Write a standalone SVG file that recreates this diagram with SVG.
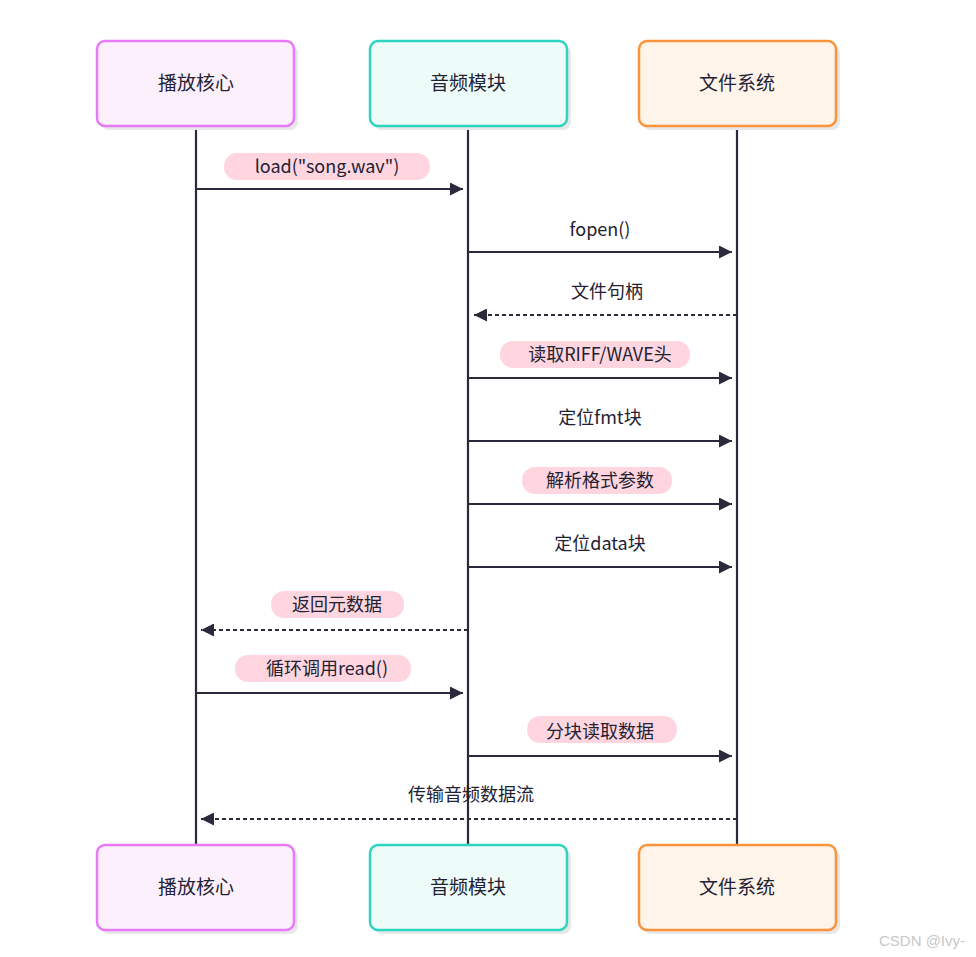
<svg xmlns="http://www.w3.org/2000/svg" width="976" height="957" viewBox="0 0 976 957">
<style>
.t{font-family:"Noto Sans CJK SC","Noto Sans",sans-serif;font-size:19px;fill:#222233;text-anchor:middle}
.m{font-family:"Noto Sans CJK SC","DejaVu Sans",sans-serif;font-size:18px;fill:#222233;text-anchor:middle}
.ln{stroke:#2b2a3d;stroke-width:2.2;fill:none}
.d{stroke-dasharray:4 3}
.pill{fill:#ffd6e0}
.sh{fill:#e8e8e8}
.a{fill:#ea80fc33;stroke:#e879f9;stroke-width:2.5}
</style>
<defs>
<marker id="ah" viewBox="0 0 10 10" refX="10" refY="5" markerWidth="13" markerHeight="13" markerUnits="userSpaceOnUse" orient="auto"><path d="M0,0L10,5L0,10z" fill="#2b2a3d"/></marker>
</defs>
<rect width="976" height="957" fill="#fff"/>
<g id="lifelines" class="ln">
<line x1="196" y1="126" x2="196" y2="845"/>
<line x1="468" y1="126" x2="468" y2="845"/>
<line x1="737" y1="126" x2="737" y2="845"/>
</g>
<g id="n-core-top"><rect x="101" y="45" width="197" height="85" rx="8" class="sh"/><rect x="97" y="41" width="197" height="85" rx="8" fill="#fdf0fd" stroke="#e879f9" stroke-width="2.5"/><text class="t" x="196" y="90">播放核心</text></g>
<g id="n-audio-top"><rect x="374" y="45" width="197" height="85" rx="8" class="sh"/><rect x="370" y="41" width="197" height="85" rx="8" fill="#eefcf9" stroke="#2dd4bf" stroke-width="2.5"/><text class="t" x="468" y="90">音频模块</text></g>
<g id="n-fs-top"><rect x="643" y="45" width="197" height="85" rx="8" class="sh"/><rect x="639" y="41" width="197" height="85" rx="8" fill="#fff4ea" stroke="#fb923c" stroke-width="2.5"/><text class="t" x="737" y="90">文件系统</text></g>
<g id="n-core-bot"><rect x="101" y="849" width="197" height="85" rx="8" class="sh"/><rect x="97" y="845" width="197" height="85" rx="8" fill="#fdf0fd" stroke="#e879f9" stroke-width="2.5"/><text class="t" x="196" y="894">播放核心</text></g>
<g id="n-audio-bot"><rect x="374" y="849" width="197" height="85" rx="8" class="sh"/><rect x="370" y="845" width="197" height="85" rx="8" fill="#eefcf9" stroke="#2dd4bf" stroke-width="2.5"/><text class="t" x="468" y="894">音频模块</text></g>
<g id="n-fs-bot"><rect x="643" y="849" width="197" height="85" rx="8" class="sh"/><rect x="639" y="845" width="197" height="85" rx="8" fill="#fff4ea" stroke="#fb923c" stroke-width="2.5"/><text class="t" x="737" y="894">文件系统</text></g>
<g id="connectors">
<rect class="pill" x="224" y="153" width="206" height="27" rx="13"/>
<text class="m" x="327" y="173">load("song.wav")</text>
<line class="ln" x1="196" y1="189" x2="463" y2="189" marker-end="url(#ah)"/>
<text class="m" x="600" y="236">fopen()</text>
<line class="ln" x1="468" y1="252" x2="732" y2="252" marker-end="url(#ah)"/>
<text class="m" x="607" y="298">文件句柄</text>
<line class="ln d" x1="737" y1="315" x2="474" y2="315" marker-end="url(#ah)"/>
<rect class="pill" x="500" y="341" width="190" height="27" rx="13"/>
<text class="m" x="600" y="361">读取RIFF/WAVE头</text>
<line class="ln" x1="468" y1="378" x2="732" y2="378" marker-end="url(#ah)"/>
<text class="m" x="600" y="424">定位fmt块</text>
<line class="ln" x1="468" y1="441" x2="732" y2="441" marker-end="url(#ah)"/>
<rect class="pill" x="522" y="467" width="150" height="27" rx="13"/>
<text class="m" x="600" y="487">解析格式参数</text>
<line class="ln" x1="468" y1="504" x2="732" y2="504" marker-end="url(#ah)"/>
<text class="m" x="600" y="550">定位data块</text>
<line class="ln" x1="468" y1="567" x2="732" y2="567" marker-end="url(#ah)"/>
<rect class="pill" x="271" y="591" width="133" height="27" rx="13"/>
<text class="m" x="337" y="611">返回元数据</text>
<line class="ln d" x1="468" y1="630" x2="201" y2="630" marker-end="url(#ah)"/>
<rect class="pill" x="235" y="655" width="176" height="27" rx="13"/>
<text class="m" x="327" y="675">循环调用read()</text>
<line class="ln" x1="196" y1="693" x2="463" y2="693" marker-end="url(#ah)"/>
<rect class="pill" x="527" y="716" width="150" height="27" rx="13"/>
<text class="m" x="600" y="738">分块读取数据</text>
<line class="ln" x1="468" y1="756" x2="732" y2="756" marker-end="url(#ah)"/>
<text class="m" x="471" y="801">传输音频数据流</text>
<line class="ln d" x1="737" y1="819" x2="201" y2="819" marker-end="url(#ah)"/>
</g>
<text x="922" y="946" font-family="Liberation Sans,sans-serif" font-size="15" fill="#c8c8c8" text-anchor="middle">CSDN @Ivy-</text>
</svg>
